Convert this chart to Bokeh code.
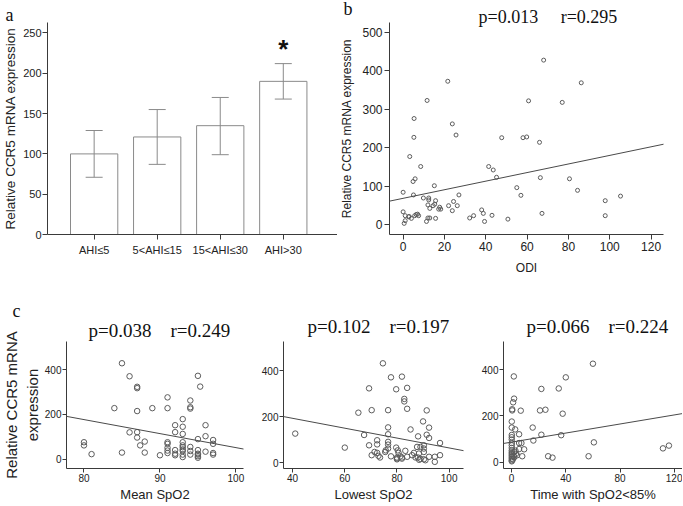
from bokeh.plotting import figure
from bokeh.layouts import column, row
from bokeh.models import (Range1d, FixedTicker, Whisker, TeeHead, ColumnDataSource,
                          Slope, Title)
from bokeh.core.properties import value
from bokeh.embed import file_html
from bokeh.resources import INLINE

# ---------------- data ----------------
# panel a: CCR5 expression by AHI group (mean, error bar limits)
groups = ["AHI\u22645", "5<AHI\u226415", "15<AHI\u226430", "AHI>30"]
mean_expr = [100, 121, 135, 190]
err_lo = [71, 87, 99, 168]
err_hi = [129, 155, 170, 212]
sig_group = "AHI>30"

# panel b: ODI vs expression
odi = [0, 0, 0.5, 1, 1, 2.7, 4, 3.2, 4.8, 5.8, 5.3, 5.2, 5, 5.6, 6.3, 7.5, 8.5, 9.8,
       11.6, 11.3, 12, 12.9, 12.4, 12.4, 12, 12.9, 15.1, 15.3, 15.7, 15.7, 14.5, 17.7,
       18.2, 17.2, 21.6, 22, 23.8, 24.4, 23.8, 25.6, 26.2, 27, 32.2, 34.1, 38, 38.8,
       39.4, 41.4, 43.6, 45.2, 43, 47.7, 50.7, 55, 57, 58, 59.8, 60.7, 66, 66.4, 67.2,
       68, 77, 80.5, 84.4, 86.2, 97.8, 97.8, 105.2, 7, 2.9]
expr_b = [84, 33, 3, 10, 23, 20, 16, 177, 112, 119, 276, 227, 77, 23, 26, 23, 151, 69,
          323, 8, 17, 17, 69, 64, 51, 42, 101, 53, 62, 16, 49, 45, 40, 40, 373, 49, 262,
          60, 36, 233, 49, 77, 17, 23, 38, 29, 8, 151, 142, 123, 24, 226, 14, 96, 76, 226,
          228, 322, 214, 122, 29, 428, 318, 119, 89, 369, 62, 23, 74, 27, 21]
fit_b = [68.2, 1.118]  # intercept, slope
stat_b = ["p=0.013", "r=0.295"]

# panel c1: mean SpO2
mean_spo2 = [80, 80, 81, 84, 85, 85, 86, 86, 87, 87, 87, 87, 87, 87.4, 88, 88, 89, 90,
             91, 91, 91, 91, 91, 91, 91, 92, 92, 92, 92, 92, 93, 93, 93, 93, 93, 93, 93,
             93, 93, 93, 94, 94, 94, 94, 94, 94, 95, 95, 95, 95, 95, 95, 95, 95.3, 96, 96,
             96, 97, 97, 97, 97]
expr_c1 = [76, 62, 23, 228, 428, 30, 370, 120, 323, 317, 215, 121, 97, 62, 79, 30, 228,
           18, 276, 228, 76, 69, 51, 39, 28, 152, 121, 41, 25, 18, 179, 145, 113, 76, 62,
           54, 44, 37, 21, 10, 262, 232, 226, 55, 37, 21, 372, 90, 41, 25, 21, 14, 7, 324,
           103, 152, 34, 86, 69, 28, 21]
fit_c1 = [677.0, -6.25]
stat_c1 = ["p=0.038", "r=0.249"]

# panel c2: lowest SpO2
lowest_spo2 = [41, 60, 65.2, 67.4, 69.3, 69.3, 70.3, 70.3, 71.4, 72.4, 72.4, 72.4, 72.9,
               73.5, 74.6, 75.5, 75.7, 76.6, 76.6, 76.6, 76.6, 76.6, 76.6, 77.7, 77.7,
               79.7, 79.7, 80.3, 80.6, 81.3, 81.9, 81.9, 81.9, 82.8, 82.8, 83.2, 83.9,
               83.9, 83.9, 85.2, 85.8, 86.5, 87.1, 88.1, 87.7, 88.4, 89, 90, 90.3, 90.3,
               90.3, 90.3, 90.9, 91.4, 91.4, 92.3, 92.3, 92.3, 94.5, 94.5, 96.5, 96.5,
               80, 80, 80, 88.5, 89, 88]
expr_c2 = [126, 65, 217, 120, 323, 75, 228, 32, 46, 97, 79, 42, 29, 22, 432, 46, 53, 228,
           153, 123, 90, 78, 61, 371, 27, 319, 65, 53, 42, 27, 374, 22, 17, 277, 266, 51,
           325, 234, 25, 144, 32, 42, 22, 114, 68, 39, 68, 179, 75, 61, 46, 14, 10, 227,
           121, 107, 152, 25, 25, 3, 85, 32, 18, 14, 22, 12, 16, 22]
fit_c2 = [278.5, -2.15]
stat_c2 = ["p=0.102", "r=0.197"]

# panel c3: time with SpO2 < 85%
time_85 = [60, 1.7, 40, 22, 34.8, 1.9, 1.2, 0.5, 0.5, 6.8, 21, 25, 37.7, 0.2, 0.2, 2.7,
           15.6, 5.6, 22, 36.6, 0.2, 0.2, 0.2, 16.1, 60.7, 111.6, 116, 0.2, 0.2, 0.2, 5.6,
           7.3, 5.6, 9.3, 2.9, 2, 0.2, 0.2, 0.2, 0.2, 0.2, 0.2, 3.2, 7.9, 27, 30.2, 56.8,
           1.5, 2, 0.2, 0.2, 1, 4]
expr_c3 = [426, 371, 367, 317, 319, 275, 259, 229, 224, 223, 224, 227, 210, 176, 150, 142,
           150, 121, 119, 117, 118, 108, 98, 94, 86, 60, 72, 83, 73, 62, 83, 83, 57, 56,
           50, 44, 51, 43, 36, 29, 22, 15, 36, 26, 26, 20, 26, 28, 22, 8, 4, 12, 30]
fit_c3 = [87.0, 0.98]
stat_c3 = ["p=0.066", "r=0.224"]

# ---------------- styling helpers ----------------
SANS = "Liberation Sans"
SERIF = "Liberation Serif"
AXC = "#3a3a3a"
BARC = "#8a8a8a"
PTC = "#5c5c5c"
LINEC = "#4a4a4a"
NB = "\u00a0"


def style(p, tick_size, label_size, tick_out=5):
    p.outline_line_color = None
    p.xgrid.visible = False
    p.ygrid.visible = False
    for ax in list(p.xaxis) + list(p.yaxis):
        ax.axis_line_color = AXC
        ax.major_tick_line_color = AXC
        ax.major_tick_out = tick_out
        ax.major_tick_in = 0
        ax.minor_tick_line_color = None
        ax.major_label_text_font = SANS
        ax.major_label_text_font_size = tick_size
        ax.major_label_text_color = "#222222"
        ax.major_label_standoff = 2
        ax.axis_label_text_font = SANS
        ax.axis_label_text_font_style = "normal"
        ax.axis_label_text_font_size = label_size
        ax.axis_label_text_color = "#222222"
        ax.axis_label_standoff = 3


def letter_title(txt, offset, standoff):
    return Title(text=txt, align="left", offset=offset, standoff=standoff,
                 text_font=SERIF, text_font_size="18px", text_font_style="normal",
                 text_color="#111111")


def stat_title(parts, gap, offset, standoff, size):
    return Title(text=(NB * gap + " ").join(parts), align="left", offset=offset,
                 standoff=standoff, text_font=SERIF, text_font_size=size,
                 text_font_style="normal", text_color="#111111")


# ---------------- panel a ----------------
idx = list(range(len(groups)))
pa = figure(width=337, height=290, x_range=Range1d(-0.74, 3.86), y_range=Range1d(0, 263),
            output_backend="svg", toolbar_location=None,
            title=letter_title("a", -42, -5),
            min_border_left=44, min_border_right=0, min_border_top=17, min_border_bottom=47)
src_a = ColumnDataSource(dict(x=idx, top=mean_expr, lo=err_lo, hi=err_hi))
pa.vbar(x="x", top="top", bottom=0, width=0.75, source=src_a,
        fill_color="white", line_color=BARC, line_width=1)
pa.add_layout(Whisker(base="x", upper="hi", lower="lo", source=src_a, level="annotation",
                      line_color=BARC, line_width=1,
                      upper_head=TeeHead(size=17, line_color=BARC, line_width=1),
                      lower_head=TeeHead(size=17, line_color=BARC, line_width=1)))
si = groups.index(sig_group)
pa.text(x=[idx[si]], y=[err_hi[si]], text=["*"], text_align="center",
        text_baseline="bottom", text_font=value(SANS), text_font_size="26px",
        text_font_style="bold", text_color="#111111", y_offset=0)
style(pa, "11px", "13.5px")
pa.xaxis.ticker = FixedTicker(ticks=idx)
pa.xaxis.major_label_overrides = {i: g for i, g in zip(idx, groups)}
pa.xaxis.major_label_standoff = 4
pa.yaxis.ticker = FixedTicker(ticks=[0, 50, 100, 150, 200, 250])
pa.yaxis.axis_label = "Relative CCR5 mRNA expression"
pa.yaxis.axis_label_standoff = 2
pa.yaxis.major_label_standoff = 1

# ---------------- panel b ----------------
pb = figure(width=345, height=290, x_range=Range1d(-6.6, 126), y_range=Range1d(-26, 526),
            output_backend="svg", toolbar_location=None,
            title=letter_title("b", -46, -18),
            min_border_left=51, min_border_right=19, min_border_top=22, min_border_bottom=56)
pb.add_layout(stat_title(stat_b, 4, 89, -9, "18px"), "above")
pb.scatter(odi, expr_b, marker="circle", size=4, fill_color=None, line_color=PTC,
           line_width=1)
pb.add_layout(Slope(gradient=fit_b[1], y_intercept=fit_b[0], line_color=LINEC,
                    line_width=1))
style(pb, "12px", "12px")
pb.xaxis.ticker = FixedTicker(ticks=[0, 20, 40, 60, 80, 100, 120])
pb.yaxis.ticker = FixedTicker(ticks=[0, 100, 200, 300, 400, 500])
pb.xaxis.axis_label = "ODI"
pb.xaxis.axis_label_standoff = 7
pb.yaxis.axis_label = "Relative CCR5 mRNA expression"
pb.yaxis.axis_label_standoff = 5


# ---------------- panel c ----------------
def cpanel(w, xr, yr, xticks, xs, ys, fit, stat, off, standoff, bl, br, bt, bb, xlabel,
           title=None):
    p = figure(width=w, height=215, x_range=Range1d(*xr), y_range=Range1d(*yr),
               output_backend="svg", toolbar_location=None, title=title,
               min_border_left=bl, min_border_right=br, min_border_top=bt,
               min_border_bottom=bb)
    p.add_layout(stat_title(stat, 3, off, standoff, "19px"), "above")
    p.scatter(xs, ys, marker="circle", size=5.5, fill_color=None, line_color=PTC,
              line_width=1)
    p.add_layout(Slope(gradient=fit[1], y_intercept=fit[0], line_color=LINEC,
                       line_width=1))
    style(p, "10px", "13px", tick_out=4)
    p.xaxis.ticker = FixedTicker(ticks=xticks)
    p.yaxis.ticker = FixedTicker(ticks=[0, 200, 400])
    p.xaxis.axis_label = xlabel
    p.xaxis.major_label_standoff = 1
    p.xaxis.axis_label_standoff = 2
    p.yaxis.major_label_standoff = 1
    return p


pc1 = cpanel(250, (77.7, 101), (-41, 525), [80, 90, 100], mean_spo2, expr_c1, fit_c1,
             stat_c1, 22, 2, 53, 7, 43, 35, "Mean SpO2",
             title=letter_title("c", -54, -8))
pc1.yaxis.axis_label = "Relative CCR5 mRNA\nexpression"
pc1.yaxis.axis_label_text_font_size = "15px"
pc1.yaxis.axis_label_standoff = 1

pc2 = cpanel(220, (36.5, 105.5), (-26, 527), [40, 60, 80, 100], lowest_spo2, expr_c2,
             fit_c2, stat_c2, 24, 10, 33, 7, 51, 37, "Lowest SpO2")
pc3 = cpanel(212, (-5.9, 126), (-27, 522), [0, 40, 80, 120], time_85, expr_c3, fit_c3,
             stat_c3, 23, 10, 33, 0, 51, 37, "Time with SpO2<85%")

layout = column(row(pa, pb, spacing=0), row(pc1, pc2, pc3, spacing=0), spacing=0)

with open("out.html", "w") as f:
    f.write(file_html(layout, INLINE))
